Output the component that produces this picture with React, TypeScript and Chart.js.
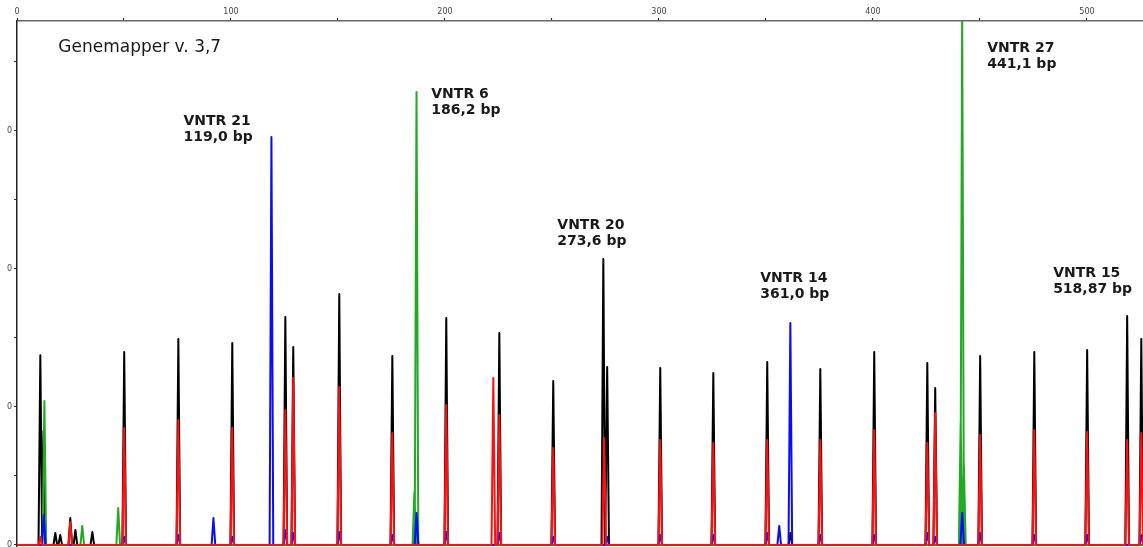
import React, { useEffect, useRef } from 'react';
import { Chart, registerables } from 'chart.js';

Chart.register(...registerables);

// Axis ranges (size in bp on x, signal in RFU on y)
const X_MIN = 0;
const X_MAX = 526.2;
const Y_MIN = -30;
const Y_MAX = 7594;

const xTickValues = [0, 50, 100, 150, 200, 250, 300, 350, 400, 450, 500];
const xTickLabels = ['0', '', '100', '', '200', '', '300', '', '400', '', '500'];
const yTickValues = [0, 1000, 2000, 3000, 4000, 5000, 6000, 7000];
const yTickLabels = ['0', '', '0', '', '0', '', '0', ''];

// Peaks per dye channel: [size (bp), height (RFU)]
const blackPeaks: [number, number][] = [
  [10.9, 2750], [12.4, 1650], [17.9, 174], [20.2, 145], [24.9, 391], [27.3, 217], [35.2, 188],
  [50.1, 2797], [75.4, 2985], [100.6, 2927], [125.4, 3304], [129.1, 2869], [150.6, 3637],
  [175.4, 2739], [186.7, 260], [200.6, 3289], [225.4, 3072], [250.6, 2376], [274.0, 4144],
  [275.8, 2579], [300.6, 2565], [325.4, 2492], [350.6, 2652], [361.4, 174], [375.4, 2550],
  [400.6, 2797], [425.4, 2637], [429.1, 2275], [441.7, 145], [450.1, 2739], [475.4, 2797],
  [500.1, 2826], [518.8, 3318], [525.4, 2985],
];

const redPeaks: [number, number][] = [
  [10.9, 116], [24.9, 333], [50.1, 1695], [75.4, 1811], [100.6, 1700], [125.4, 1956],
  [129.1, 2420], [150.6, 2290], [175.4, 1623], [200.6, 2029], [222.6, 2420], [225.4, 1884],
  [250.6, 1405], [274.4, 1550], [300.6, 1521], [325.4, 1478], [350.6, 1521], [375.4, 1521],
  [400.6, 1666], [425.4, 1478], [429.1, 1913], [450.1, 1594], [475.4, 1666], [500.1, 1637],
  [518.8, 1521], [525.4, 1623],
];

const bluePeaks: [number, number][] = [
  [12.5, 435], [50.1, 116], [75.4, 145], [91.8, 391], [100.6, 116], [118.9, 5912],
  [125.4, 217], [129.1, 174], [150.6, 188], [175.4, 145], [186.7, 464], [200.6, 188],
  [225.4, 174], [250.6, 116], [275.8, 116], [300.6, 145], [325.4, 145], [350.6, 174],
  [356.2, 275], [361.4, 3217], [375.4, 145], [400.6, 145], [425.4, 174], [429.1, 116],
  [441.7, 464], [450.1, 174], [475.4, 145], [500.1, 145], [525.4, 145],
];

const greenPeaks: [number, number][] = [
  [12.8, 2087], [30.5, 275], [47.3, 536], [185.7, 768], [186.7, 6564],
  [441.0, 1782], [441.7, 7700], [442.5, 1159],
];

const title = 'Genemapper v. 3,7';
const peakNames = ['VNTR 21', 'VNTR 6', 'VNTR 20', 'VNTR 14', 'VNTR 27', 'VNTR 15'];
const peakSizes = ['119,0 bp', '186,2 bp', '273,6 bp', '361,0 bp', '441,1 bp', '518,87 bp'];

// label anchors (data units): left edge / first-line baseline
const labelAnchors: [number, number][] = [
  [77.8, 6086], [193.6, 6477], [252.5, 4579], [347.3, 3811], [453.4, 7144], [484.2, 3883],
];
const titleAnchor: [number, number] = [19.3, 7144];

const HALF_WIDTH = 0.85;

function buildTrace(peaks: [number, number][]) {
  const sorted = [...peaks].sort((a, b) => a[0] - b[0]);
  const pts: { x: number; y: number }[] = [{ x: X_MIN, y: 0 }];
  sorted.forEach(([c, h]) => {
    pts.push({ x: c - HALF_WIDTH, y: 0 });
    pts.push({ x: c, y: h });
    pts.push({ x: c + HALF_WIDTH, y: 0 });
  });
  pts.push({ x: X_MAX, y: 0 });
  return pts;
}

const textPlugin = {
  id: 'gmText',
  afterDatasetsDraw(chart: any) {
    const { ctx, scales } = chart;
    const xs = scales.x;
    const ys = scales.y;
    ctx.save();
    ctx.fillStyle = '#1a1a1a';
    ctx.textBaseline = 'alphabetic';
    ctx.textAlign = 'left';
    ctx.font = '17px "DejaVu Sans"';
    ctx.fillText(title, xs.getPixelForValue(titleAnchor[0]), ys.getPixelForValue(titleAnchor[1]));
    ctx.font = 'bold 14px "DejaVu Sans"';
    peakNames.forEach((name, i) => {
      const px = xs.getPixelForValue(labelAnchors[i][0]);
      const py = ys.getPixelForValue(labelAnchors[i][1]);
      ctx.fillText(name, px, py);
      ctx.fillText(peakSizes[i], px, py + 16);
    });
    ctx.restore();
  },
};

export default function App() {
  const ref = useRef<HTMLCanvasElement | null>(null);

  useEffect(() => {
    if (!ref.current) return;
    const mk = (label: string, color: string, peaks: [number, number][]) => ({
      label,
      data: buildTrace(peaks),
      borderColor: color,
      backgroundColor: color,
      borderWidth: 2,
      pointRadius: 0,
      tension: 0,
      fill: false,
      borderJoinStyle: 'round' as const,
    });
    const chart = new Chart(ref.current, {
      type: 'line',
      data: {
        datasets: [
          mk('red', '#ff1010', redPeaks),
          mk('blue', '#0a0aff', bluePeaks),
          mk('green', '#22aa22', greenPeaks),
          mk('black', '#000000', blackPeaks),
        ],
      },
      options: {
        responsive: false,
        animation: false,
        devicePixelRatio: 1,
        layout: { padding: 0 },
        plugins: { legend: { display: false }, tooltip: { enabled: false }, title: { display: false } },
        scales: {
          x: {
            type: 'linear',
            position: 'top',
            min: X_MIN,
            max: X_MAX,
            afterBuildTicks: (s: any) => { s.ticks = xTickValues.map((v) => ({ value: v })); },
            afterFit: (s: any) => { s.height = 21; s.paddingLeft = 0; s.paddingRight = 0; },
            ticks: {
              autoSkip: false,
              maxRotation: 0,
              padding: 1,
              color: '#444',
              font: { size: 8, family: 'DejaVu Sans' },
              callback: (v: any) => { const i = xTickValues.indexOf(Number(v)); return i >= 0 ? xTickLabels[i] : ''; },
            },
            grid: { drawOnChartArea: false, drawTicks: true, tickLength: 3, tickColor: '#333', tickWidth: 1.2 },
            border: { display: true, color: '#666', width: 1.5 },
          },
          y: {
            type: 'linear',
            position: 'left',
            min: Y_MIN,
            max: Y_MAX,
            afterBuildTicks: (s: any) => { s.ticks = yTickValues.map((v) => ({ value: v })); },
            afterFit: (s: any) => { s.width = 17; s.paddingTop = 0; s.paddingBottom = 0; },
            ticks: {
              autoSkip: false,
              padding: 2,
              color: '#444',
              font: { size: 8, family: 'DejaVu Sans' },
              callback: (v: any) => { const i = yTickValues.indexOf(Number(v)); return i >= 0 ? yTickLabels[i] : ''; },
            },
            grid: { drawOnChartArea: false, drawTicks: true, tickLength: 3, tickColor: '#333', tickWidth: 1.2 },
            border: { display: true, color: '#222', width: 1.5 },
          },
        },
      },
      plugins: [textPlugin],
    });
    return () => chart.destroy();
  }, []);

  return (
    <div style={{ position: 'fixed', left: 0, top: 0, width: 1143, height: 547, background: '#fff' }}>
      <canvas ref={ref} width={1143} height={547} style={{ display: 'block', width: 1143, height: 547 }} />
    </div>
  );
}
